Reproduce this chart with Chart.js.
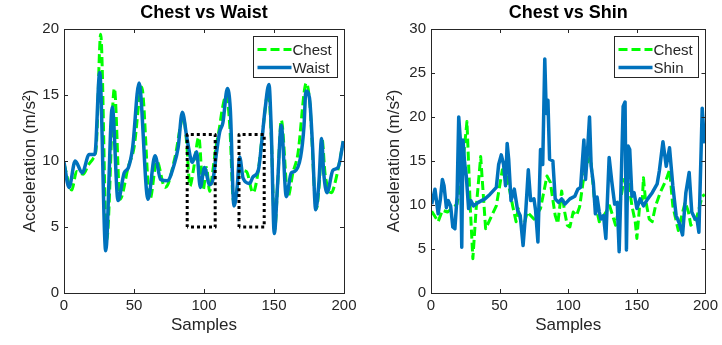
<!DOCTYPE html>
<html>
<head>
<meta charset="utf-8">
<script src="https://cdn.jsdelivr.net/npm/chart.js@4.4.1/dist/chart.umd.min.js"></script>
<style>
  html, body { margin: 0; padding: 0; background: #fff; }
  #wrap { position: relative; width: 722px; height: 345px; overflow: hidden; }
  canvas { position: absolute; top: 0; }
  #c1 { left: 0; }
  #c2 { left: 361px; }
</style>
</head>
<body>
<div id="wrap">
  <canvas id="c1" width="361" height="345"></canvas>
  <canvas id="c2" width="361" height="345"></canvas>
</div>
<script>
// Data: [sample, acceleration (m/s^2)] pairs per series.
const waistPts = [
  [0, 9.9], [3.6, 8.0], [8, 10.0], [13, 9.1], [18, 10.5], [22, 10.5], [25.5, 16.7], [29.8, 3.2],
  [34.5, 14.1], [38.6, 7.0], [43, 9.1], [46, 9.5], [49, 11.0], [53.6, 15.9], [60, 7.1], [65, 10.4],
  [69, 8.6], [73.8, 8.5], [78.6, 9.7], [81.5, 11.0], [84.5, 13.7], [88, 11.6], [91.7, 9.9], [94.7, 10.7],
  [97.4, 8.0], [100.3, 9.5], [104, 8.2], [106.6, 8.7], [108.9, 10.6], [111.2, 12.2], [113.5, 12.9],
  [116.7, 15.5], [118.8, 13.9], [121.4, 6.6], [123.5, 7.8], [125.5, 10.3], [127.9, 8.7], [132.6, 8.3],
  [135, 8.8], [138.8, 9.3], [141.2, 11.4], [143.6, 13.9], [146.4, 15.8], [148, 12.5], [150.2, 4.5],
  [152.5, 8.1], [155.2, 12.7], [158.8, 7.3], [162.3, 9.1], [164.7, 9.2], [169, 10.3], [171.4, 12.6],
  [172.8, 15.3], [175.3, 14.8], [177.4, 11.4], [179.8, 6.3], [182.1, 8.4], [184, 11.7], [185.5, 9.1],
  [187.9, 7.6], [192.1, 9.3], [195.7, 9.5], [199.5, 11.5]
];
const chestLeftPts = [
  [0, 9.8], [5.5, 7.8], [9, 9.2], [13.8, 9.0], [17.4, 9.7], [20.9, 10.2], [23, 11.0], [26.2, 19.6],
  [30.5, 4.0], [36, 15.5], [40, 7.1], [46, 9.6], [50, 11.0], [55.5, 15.6], [61.4, 7.1], [66.3, 10.0],
  [72.1, 8.0], [74.5, 8.3], [79.3, 10.3], [85.3, 13.3], [87.6, 11.4], [90, 8.1], [92.4, 9.3], [96.3, 11.8],
  [99.4, 7.8], [101.8, 9.5], [104, 7.7], [106, 9.0], [108.2, 10.8], [111, 12.5], [113, 13.9], [116, 15.0],
  [118.5, 12.5], [121, 7.0], [123.5, 7.8], [125.5, 9.3], [130.3, 9.2], [135, 7.6], [138.8, 9.3],
  [142.1, 12.4], [146, 15.3], [148, 12.0], [150.5, 4.8], [152.5, 8.0], [155.2, 13.1], [160, 7.3],
  [163.5, 9.1], [167, 10.5], [173.1, 15.9], [175.5, 14.5], [180.3, 6.4], [182.5, 8.5], [184.3, 11.7],
  [186.5, 9.0], [191, 7.6], [194.6, 8.8], [199.5, 11.5]
];
const shinPts = [
  [0.5, 10.1], [2.9, 11.8], [5.2, 9.0], [6.7, 10.5], [8.3, 12.9], [9.5, 12.2], [11.2, 9.7], [12.6, 10.5],
  [14.3, 9.9], [15.9, 7.5], [17.4, 7.3], [19, 11.0], [20.2, 20.0], [21.4, 17.4], [22.4, 5.2], [23.3, 17.4],
  [24.5, 14.8], [25.7, 13.3], [27.4, 9.6], [29, 10.5], [31, 9.9], [34.5, 10.3], [39.3, 10.7], [42.9, 11.2],
  [47.6, 12.0], [49.3, 14.6], [51.2, 15.7], [52.9, 14.6], [54.3, 12.2], [55.5, 17.0], [56.6, 15.2],
  [58.3, 10.5], [60.7, 11.8], [63.1, 9.4], [65, 8.8], [67.1, 5.4], [69, 9.2], [70.9, 14.0], [72.6, 10.5],
  [75, 10.7], [76.2, 9.4], [77.9, 5.8], [79.8, 16.3], [81.4, 14.6], [82.9, 26.6], [84, 20.4], [85.2, 21.9],
  [86.4, 15.2], [88.8, 15.0], [90.5, 10.7], [92.9, 10.3], [95.2, 10.7], [97.6, 10.1], [101.2, 10.7],
  [104.8, 11.0], [107, 11.8], [109, 12.0], [111.4, 17.4], [112.6, 12.9], [113.8, 15.5], [115.5, 20.0],
  [116.7, 14.4], [118.3, 12.5], [119.8, 9.0], [121, 10.9], [122.6, 9.2], [123.8, 8.4], [125.7, 8.8],
  [127.4, 6.2], [129.8, 15.4], [131.7, 12.7], [133.8, 10.1], [135.7, 10.3], [137.1, 4.7], [138.8, 14.0],
  [140, 21.2], [141.4, 21.7], [142.4, 4.9], [143.6, 16.7], [144.8, 16.3], [146.4, 11.0], [148, 11.4],
  [150, 9.6], [152.4, 10.7], [154.8, 9.9], [157.9, 10.7], [161.2, 11.4], [164.8, 12.4], [166.4, 13.9],
  [169, 17.2], [171.4, 14.4], [173.8, 16.5], [176.2, 12.2], [178.6, 8.8], [181, 7.9], [183.3, 6.6],
  [185.7, 11.4], [188.1, 13.7], [190, 9.2], [192.4, 8.4], [193.8, 8.4], [195.2, 6.9], [196.9, 16.7],
  [197.6, 21.0], [199.3, 17.0]
];
const chestRightPts = [
  [0.5, 9.3], [5.2, 8.1], [8.3, 9.4], [12, 9.2], [19, 10.1], [23.3, 14.8], [26.2, 19.5], [28.6, 9.8],
  [30.5, 3.9], [32.9, 9.6], [36.2, 15.5], [39.8, 7.3], [47.6, 9.9], [52, 14.0], [55.5, 13.1], [59.5, 9.9],
  [62, 8.1], [63.6, 9.6], [66.7, 7.1], [70.2, 9.2], [75, 8.4], [79.8, 9.6], [84.5, 13.3], [86.9, 12.6],
  [90.5, 8.8], [92.4, 7.9], [95.2, 11.6], [97.4, 9.2], [99.3, 7.7], [101.2, 7.5], [103.6, 9.2], [106, 8.8],
  [108.3, 9.8], [110.7, 12.5], [113.1, 14.4], [116.2, 15.5], [119, 10.7], [122.6, 8.1], [126, 8.8],
  [130.2, 9.9], [134.5, 7.7], [138, 10.5], [140.7, 12.9], [142, 12.2], [143.3, 13.3], [146.4, 9.9],
  [148.8, 8.1], [150, 6.2], [152, 9.9], [154, 10.7], [154.8, 13.1], [156.2, 10.7], [159, 8.4], [161.2, 8.1],
  [163.6, 9.9], [167, 11.4], [171.4, 12.9], [173.8, 14.0], [176.2, 9.9], [180.2, 7.1], [182.1, 8.4],
  [185.2, 10.3], [187.6, 9.2], [189.3, 7.7], [191.7, 8.1], [194, 8.8], [197.6, 11.0], [199.5, 11.2]
];
// dotted boxes on the left plot: [x0, x1, y0, y1]
const boxes = [[88, 108, 5, 12], [125, 143, 5, 12]];
const xTicks = [0, 50, 100, 150, 200];
const yTicksLeft = [0, 5, 10, 15, 20];
const yTicksRight = [0, 5, 10, 15, 20, 25, 30];

const FONT = "'Liberation Sans', Arial, Helvetica, sans-serif";
const INK = '#262626';
const GREEN = '#00FF00';
const BLUE = '#0072BD';

const toXY = (pts) => pts.map((p) => ({ x: p[0], y: p[1] }));
const boxXY = (b) => [
  { x: b[0], y: b[2] }, { x: b[0], y: b[3] }, { x: b[1], y: b[3] }, { x: b[1], y: b[2] }, { x: b[0], y: b[2] }
];

// MATLAB style box with ticks pointing inward on all four sides
const axesBox = {
  id: 'axesBox',
  afterDatasetsDraw(chart) {
    const { ctx, chartArea: a, scales } = chart;
    ctx.save();
    ctx.strokeStyle = INK;
    ctx.lineWidth = 1;
    ctx.beginPath();
    const len = 4;
    scales.x.ticks.forEach((t) => {
      const px = Math.round(scales.x.getPixelForValue(t.value)) + 0.5;
      ctx.moveTo(px, a.bottom); ctx.lineTo(px, a.bottom - len);
      ctx.moveTo(px, a.top); ctx.lineTo(px, a.top + len);
    });
    scales.y.ticks.forEach((t) => {
      const py = Math.round(scales.y.getPixelForValue(t.value)) + 0.5;
      ctx.moveTo(a.left, py); ctx.lineTo(a.left + len, py);
      ctx.moveTo(a.right, py); ctx.lineTo(a.right - len, py);
    });
    ctx.stroke();
    ctx.strokeRect(Math.round(a.left) + 0.5, Math.round(a.top) + 0.5,
      Math.round(a.right - a.left), Math.round(a.bottom - a.top));
    ctx.restore();
  }
};

// legend box in the upper right corner of the axes
const boxLegend = {
  id: 'boxLegend',
  afterDraw(chart) {
    const { ctx, chartArea: a } = chart;
    const items = chart.data.datasets.filter((d) => d.inLegend);
    const w = 84, h = 41;
    const x0 = Math.round(a.right - 7 - w) + 0.5, y0 = Math.round(a.top + 7) + 0.5;
    ctx.save();
    ctx.fillStyle = '#fff';
    ctx.fillRect(x0, y0, w, h);
    ctx.strokeStyle = INK;
    ctx.lineWidth = 1;
    ctx.strokeRect(x0, y0, w, h);
    items.forEach((d, i) => {
      const cy = y0 + 13 + i * 18;
      ctx.beginPath();
      ctx.strokeStyle = d.borderColor;
      ctx.lineWidth = d.borderWidth;
      ctx.setLineDash(d.borderDash || []);
      ctx.moveTo(x0 + 4, cy);
      ctx.lineTo(x0 + 38, cy);
      ctx.stroke();
      ctx.setLineDash([]);
      ctx.fillStyle = INK;
      ctx.font = '15px ' + FONT;
      ctx.textBaseline = 'middle';
      ctx.fillText(d.label, x0 + 39, cy + 1);
    });
    ctx.restore();
  }
};

function makeChart(id, opts) {
  const datasets = [
    {
      label: 'Chest', data: toXY(opts.chest), inLegend: true, order: 2,
      borderColor: GREEN, borderWidth: 3, borderDash: [9, 4]
    },
    {
      label: opts.otherName, data: toXY(opts.other), inLegend: true, order: 1,
      borderColor: BLUE, borderWidth: 3.5
    }
  ];
  (opts.boxes || []).forEach((b) => {
    datasets.push({
      label: 'box', data: boxXY(b), inLegend: false, order: 0,
      borderColor: '#000', borderWidth: 3, borderDash: [3, 3], tension: 0
    });
  });

  return new Chart(document.getElementById(id), {
    type: 'line',
    data: { datasets: datasets },
    options: {
      responsive: false,
      animation: false,
      devicePixelRatio: 1,
      layout: { padding: { left: 0, right: opts.padRight, top: 0, bottom: 0 } },
      elements: {
        point: { radius: 0 },
        line: { tension: opts.tension, cubicInterpolationMode: opts.mode, borderCapStyle: 'butt', borderJoinStyle: 'round' }
      },
      plugins: {
        legend: { display: false },
        tooltip: { enabled: false },
        title: {
          display: true, text: opts.title, fullSize: false, color: '#000',
          font: { family: FONT, size: 18, weight: 'bold', lineHeight: 1 },
          padding: { top: 4, bottom: 7 }
        }
      },
      scales: {
        x: {
          type: 'linear', min: 0, max: 200,
          afterBuildTicks: (s) => { s.ticks = xTicks.map((v) => ({ value: v })); },
          afterFit: (s) => { s.height = 52; },
          grid: { display: false, drawTicks: false },
          border: { display: false },
          ticks: { color: INK, padding: 4, maxRotation: 0, font: { family: FONT, size: 15 } },
          title: {
            display: true, text: 'Samples', color: INK,
            font: { family: FONT, size: 17 }, padding: { top: 0, bottom: 9 }
          }
        },
        y: {
          type: 'linear', min: 0, max: opts.yMax,
          afterBuildTicks: (s) => { s.ticks = opts.yTicks.map((v) => ({ value: v })); },
          afterFit: (s) => { s.width = opts.yWidth; },
          grid: { display: false, drawTicks: false },
          border: { display: false },
          ticks: { color: INK, padding: 5, font: { family: FONT, size: 15 } },
          title: {
            display: true, text: 'Acceleration (m/s\u00B2)', color: INK,
            font: { family: FONT, size: 17 }, padding: { top: opts.yTitlePad, bottom: 0 }
          }
        }
      }
    },
    plugins: [axesBox, boxLegend]
  });
}

makeChart('c1', {
  title: 'Chest vs Waist', chest: chestLeftPts, other: waistPts, otherName: 'Waist',
  boxes: boxes, yMax: 20, yTicks: yTicksLeft, yWidth: 64, padRight: 17, yTitlePad: 20,
  tension: 0.4, mode: 'monotone'
});
makeChart('c2', {
  title: 'Chest vs Shin', chest: chestRightPts, other: shinPts, otherName: 'Shin',
  yMax: 30, yTicks: yTicksRight, yWidth: 70, padRight: 12, yTitlePad: 23,
  tension: 0, mode: 'default'
});
</script>
</body>
</html>
